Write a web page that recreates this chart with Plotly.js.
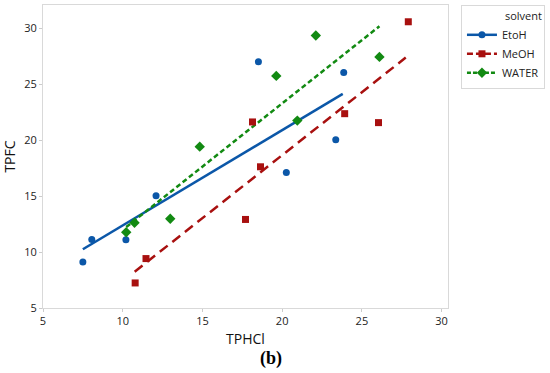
<!DOCTYPE html>
<html>
<head>
<meta charset="utf-8">
<script src="https://cdn.plot.ly/plotly-3.0.1.min.js"></script>
<style>html,body{margin:0;padding:0;background:#fff}#chart{width:550px;height:373px}</style>
</head>
<body>
<div id="chart"></div>
<script>
// Data
const etohX = [7.5, 8.06, 10.2, 12.09, 18.51, 20.26, 23.36, 23.86];
const etohY = [9.12, 11.13, 11.1, 15.03, 27.02, 17.13, 20.05, 26.06];
const meohX = [10.78, 11.46, 17.7, 18.14, 18.64, 23.92, 26.04, 27.91];
const meohY = [7.24, 9.42, 12.92, 21.64, 17.63, 22.38, 21.58, 30.6];
const waterX = [10.22, 10.74, 12.98, 14.83, 19.63, 20.95, 22.11, 26.1];
const waterY = [11.78, 12.62, 12.98, 19.43, 25.76, 21.76, 29.37, 27.46];
// Fitted line endpoints
const etohFitX = [7.5, 23.8];
const etohFitY = [10.25, 24.15];
const meohFitX = [10.75, 27.75];
const meohFitY = [8.25, 27.4];
const waterFitX = [10.22, 26.1];
const waterFitY = [12.24, 30.2];
const seriesNames = ['EtoH', 'MeOH', 'WATER'];
const ticks = [5, 10, 15, 20, 25, 30];

const blue = '#0b57a8', red = '#a8100f', green = '#128a12';
const font = '"Open Sans", "Noto Sans", sans-serif';

const traces = [
  {x: etohFitX, y: etohFitY, mode: 'lines', line: {color: blue, width: 2.5, dash: 'solid'}, showlegend: false, hoverinfo: 'skip'},
  {x: meohFitX, y: meohFitY, mode: 'lines', line: {color: red, width: 2.5, dash: '10px,6px'}, showlegend: false, hoverinfo: 'skip'},
  {x: waterFitX, y: waterFitY, mode: 'lines', line: {color: green, width: 2.5, dash: '5px,3px'}, showlegend: false, hoverinfo: 'skip'},
  {x: etohX, y: etohY, mode: 'markers', marker: {color: blue, size: 7, symbol: 'circle'}, showlegend: false},
  {x: meohX, y: meohY, mode: 'markers', marker: {color: red, size: 7, symbol: 'square'}, showlegend: false},
  {x: waterX, y: waterY, mode: 'markers', marker: {color: green, size: 8, symbol: 'diamond'}, showlegend: false},
  {x: [null], y: [null], name: seriesNames[0], mode: 'lines+markers', line: {color: blue, width: 2.5, dash: 'solid'}, marker: {color: blue, size: 7, symbol: 'circle'}},
  {x: [null], y: [null], name: seriesNames[1], mode: 'lines+markers', line: {color: red, width: 2.5, dash: '6px,3px'}, marker: {color: red, size: 7, symbol: 'square'}},
  {x: [null], y: [null], name: seriesNames[2], mode: 'lines+markers', line: {color: green, width: 2.5, dash: '4px,2px'}, marker: {color: green, size: 8, symbol: 'diamond'}}
];

const layout = {
  width: 550, height: 373,
  margin: {l: 42.7, r: 100, t: 5, b: 65.3, pad: 0},
  paper_bgcolor: '#fff', plot_bgcolor: '#fff',
  font: {family: font, size: 11, color: '#222'},
  xaxis: {
    range: [5, 30.4], tickvals: ticks, ticktext: ticks.map(String),
    showgrid: false, zeroline: false, showline: true, linecolor: '#d9d9d9', linewidth: 1, mirror: true,
    ticks: 'outside', ticklen: 3, tickcolor: '#ccc',
    tickfont: {family: font, size: 11, color: '#222'},
    title: {text: 'TPHCl', font: {family: font, size: 14, color: '#111'}, standoff: 6}
  },
  yaxis: {
    range: [5, 32.1], tickvals: ticks, ticktext: ticks.map(String),
    showgrid: false, zeroline: false, showline: true, linecolor: '#d9d9d9', linewidth: 1, mirror: true,
    ticks: 'outside', ticklen: 3, tickcolor: '#ccc',
    tickfont: {family: font, size: 11, color: '#222'},
    title: {text: 'TPFC', font: {family: font, size: 14, color: '#111'}, standoff: 6}
  },
  legend: {
    x: 1.032, xanchor: 'left', y: 1, yanchor: 'top',
    bordercolor: '#d9d9d9', borderwidth: 1, bgcolor: '#fff',
    font: {family: font, size: 11, color: '#222'},
    title: {text: 'solvent', side: 'top right', font: {family: font, size: 11, color: '#222'}},
    itemwidth: 30, tracegroupgap: 0
  },
  annotations: [{
    text: '<b>(b)</b>', xref: 'paper', yref: 'paper', x: 0.563, y: -0.166, xanchor: 'center', yanchor: 'middle',
    showarrow: false, font: {family: '"Liberation Serif", "DejaVu Serif", serif', size: 18, color: '#000'}
  }],
  showlegend: true
};

Plotly.newPlot('chart', traces, layout, {staticPlot: true, displayModeBar: false});
</script>
</body>
</html>
